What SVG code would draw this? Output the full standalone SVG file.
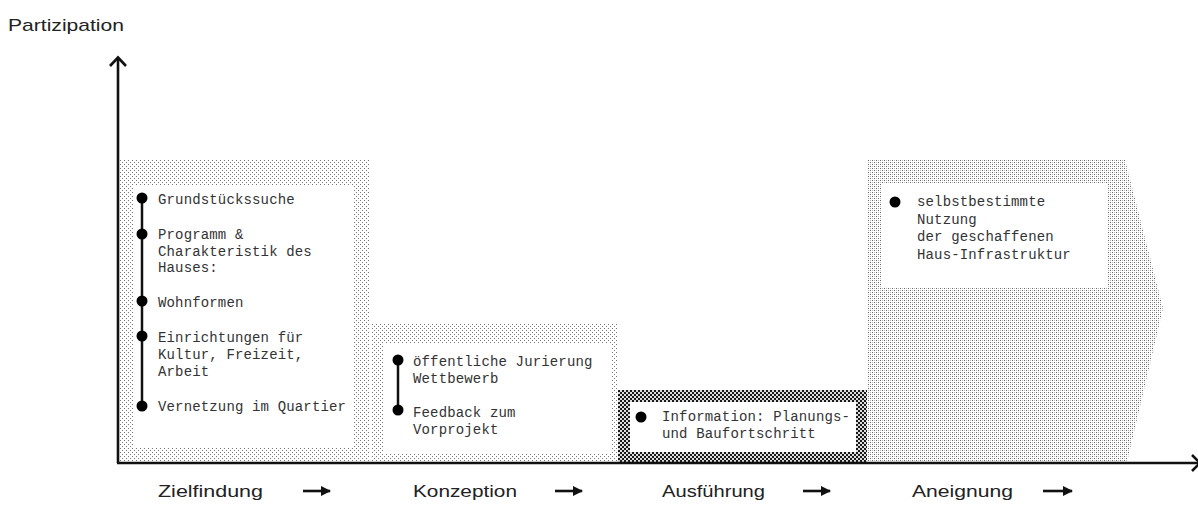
<svg xmlns="http://www.w3.org/2000/svg" width="1198" height="505" viewBox="0 0 1198 505">
<style>
.mono{font-family:"Liberation Mono","DejaVu Sans Mono",monospace;font-size:14px;letter-spacing:0.15px;fill:#333;}
.lbl{font-family:"Liberation Sans","DejaVu Sans",sans-serif;font-size:17px;fill:#222;}
.axis{stroke:#111;stroke-width:2.6;fill:none;}
.tl{stroke:#111;stroke-width:2.5;}
.dot{fill:#000;}
.inner{fill:#fff;}
.phase{stroke:#111;stroke-width:2.6;marker-end:url(#ah);}
</style>
<defs>
<pattern id="stip1" patternUnits="userSpaceOnUse" width="4" height="4">
<rect x="0" y="0" width="1" height="1" fill="#777"/>
<rect x="2" y="2" width="1" height="1" fill="#777"/>
</pattern>
<pattern id="stip2" patternUnits="userSpaceOnUse" width="4" height="4">
<rect x="0" y="0" width="1" height="1" fill="#666"/>
<rect x="2" y="2" width="1" height="1" fill="#666"/>
<rect x="2" y="0" width="1" height="1" fill="#bbb"/>
<rect x="0" y="2" width="1" height="1" fill="#bbb"/>
</pattern>
<pattern id="chk" patternUnits="userSpaceOnUse" width="4" height="4">
<rect x="0" y="0" width="4" height="4" fill="#ddd"/>
<rect x="0" y="0" width="2" height="2" fill="#1a1a1a"/>
<rect x="2" y="2" width="2" height="2" fill="#1a1a1a"/>
</pattern>
<marker id="ah" viewBox="0 0 10 10" refX="9" refY="5" markerWidth="4" markerHeight="4" orient="auto" markerUnits="strokeWidth">
<path d="M0,0 L10,5 L0,10 z" fill="#111"/>
</marker>
</defs>

<rect width="1198" height="505" fill="#fff"/>

<g id="node-zielfindung">
<rect x="120" y="160" width="250" height="302" fill="url(#stip1)"/>
<rect class="inner" x="133" y="185" width="220" height="263"/>
<line class="tl" x1="142" y1="198" x2="142" y2="406"/>
<circle class="dot" cx="142" cy="198" r="5.5"/>
<circle class="dot" cx="142" cy="234" r="5.5"/>
<circle class="dot" cx="142" cy="301" r="5.5"/>
<circle class="dot" cx="142" cy="336" r="5.5"/>
<circle class="dot" cx="142" cy="406" r="5.5"/>
<text class="mono" x="158" y="204">Grundstückssuche</text>
<text class="mono" x="158" y="239">Programm &amp;</text>
<text class="mono" x="158" y="255.5">Charakteristik des</text>
<text class="mono" x="158" y="272">Hauses:</text>
<text class="mono" x="158" y="307">Wohnformen</text>
<text class="mono" x="158" y="342">Einrichtungen für</text>
<text class="mono" x="158" y="359">Kultur, Freizeit,</text>
<text class="mono" x="158" y="376">Arbeit</text>
<text class="mono" x="158" y="411">Vernetzung im Quartier</text>
</g>

<g id="node-konzeption">
<rect x="372" y="323" width="246" height="139" fill="url(#stip1)"/>
<rect class="inner" x="383" y="343" width="228" height="110"/>
<line class="tl" x1="398" y1="360" x2="398" y2="410"/>
<circle class="dot" cx="398" cy="360" r="5.5"/>
<circle class="dot" cx="398" cy="410" r="5.5"/>
<text class="mono" x="413" y="366">öffentliche Jurierung</text>
<text class="mono" x="413" y="383">Wettbewerb</text>
<text class="mono" x="413" y="417">Feedback zum</text>
<text class="mono" x="413" y="434">Vorprojekt</text>
</g>

<g id="node-ausfuehrung">
<rect x="618" y="390" width="249" height="72" fill="url(#chk)"/>
<rect class="inner" x="630" y="402" width="226" height="50"/>
<circle class="dot" cx="641" cy="417" r="5.5"/>
<text class="mono" x="662" y="421">Information: Planungs-</text>
<text class="mono" x="662" y="438">und Baufortschritt</text>
</g>

<g id="node-aneignung">
<polygon points="868,160 1125,160 1163,308 1127,462 868,462" fill="url(#stip2)"/>
<rect class="inner" x="881" y="184" width="226" height="103"/>
<circle class="dot" cx="895" cy="202" r="5.5"/>
<text class="mono" x="917" y="206">selbstbestimmte</text>
<text class="mono" x="917" y="223.5">Nutzung</text>
<text class="mono" x="917" y="241">der geschaffenen</text>
<text class="mono" x="917" y="258.5">Haus-Infrastruktur</text>
</g>

<g id="axes">
<line class="axis" x1="118" y1="58" x2="118" y2="463"/>
<polyline class="axis" points="110,66 118,57.5 126,66"/>
<line class="axis" x1="117" y1="463" x2="1200" y2="463" stroke-width="3"/>
<polyline class="axis" points="1192,455 1200,463 1192,471"/>
<text class="lbl" x="8" y="31" textLength="116" lengthAdjust="spacingAndGlyphs">Partizipation</text>
</g>

<g id="phase-labels">
<text class="lbl" x="158" y="497" textLength="105" lengthAdjust="spacingAndGlyphs">Zielfindung</text>
<text class="lbl" x="413" y="497" textLength="104" lengthAdjust="spacingAndGlyphs">Konzeption</text>
<text class="lbl" x="662" y="497" textLength="103" lengthAdjust="spacingAndGlyphs">Ausführung</text>
<text class="lbl" x="912" y="497" textLength="101" lengthAdjust="spacingAndGlyphs">Aneignung</text>
</g>

<g id="connectors">
<line class="phase" x1="303" y1="491" x2="330" y2="491"/>
<line class="phase" x1="555" y1="491" x2="582" y2="491"/>
<line class="phase" x1="803" y1="491" x2="830" y2="491"/>
<line class="phase" x1="1043" y1="491" x2="1072" y2="491"/>
</g>
</svg>
